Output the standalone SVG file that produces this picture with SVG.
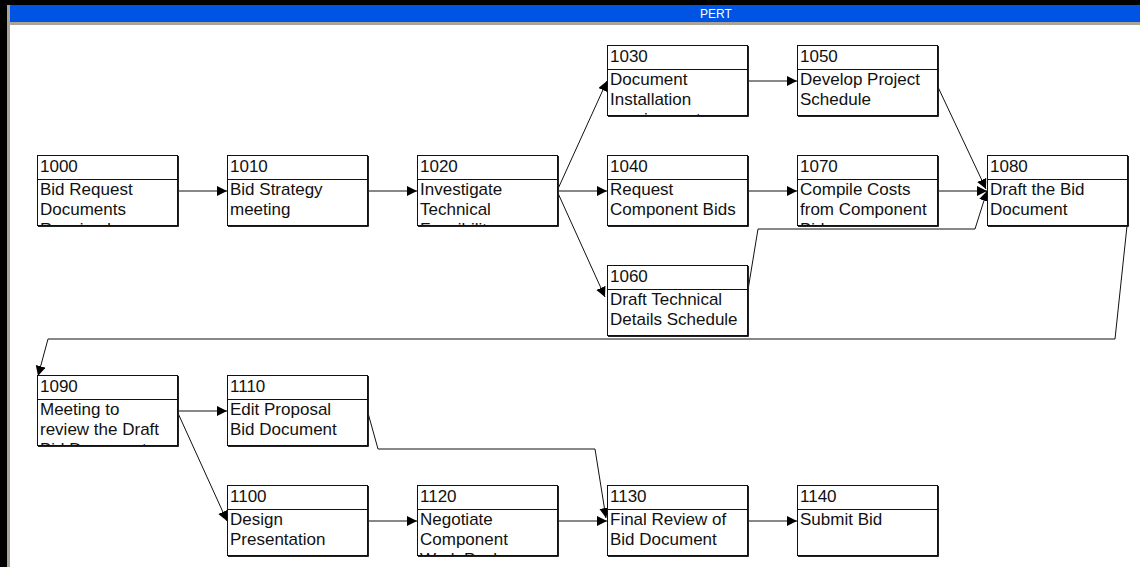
<svg xmlns="http://www.w3.org/2000/svg" width="1140" height="567" viewBox="0 0 1140 567">
<style>
.box{fill:#fff;stroke:#111;stroke-width:1}
.sh{stroke:#222;stroke-width:1;fill:none}
.div{stroke:#111;stroke-width:1}
.t{font-family:"Liberation Sans",Arial,sans-serif;font-size:17px;fill:#111}
.c{fill:none;stroke:#111;stroke-width:1;marker-end:url(#ah)}
.title{font-family:"Liberation Sans",Arial,sans-serif;font-size:12px;fill:#fff}
</style>
<defs>
<marker id="ah" markerUnits="userSpaceOnUse" markerWidth="11" markerHeight="11" refX="10" refY="5" orient="auto">
<path d="M0,0 L10,5 L0,10 Z" fill="#000"/>
</marker>
<clipPath id="r0"><rect x="0" y="69" width="1140" height="46"/></clipPath>
<clipPath id="r1"><rect x="0" y="179" width="1140" height="46"/></clipPath>
<clipPath id="r2"><rect x="0" y="289" width="1140" height="46"/></clipPath>
<clipPath id="r3"><rect x="0" y="399" width="1140" height="46"/></clipPath>
<clipPath id="r4"><rect x="0" y="509" width="1140" height="46"/></clipPath>
</defs>
<rect x="0" y="0" width="1140" height="567" fill="#fff"/>
<rect x="0" y="0" width="1140" height="5" fill="#000"/>
<rect x="9" y="5" width="1131" height="17" fill="#0054E3"/>
<rect x="9" y="22" width="1131" height="3" fill="#a8a498"/>
<rect x="0" y="0" width="7" height="567" fill="#000"/>
<rect x="7" y="5" width="3" height="562" fill="#a8a498"/>
<text class="title" x="716" y="18" text-anchor="middle">PERT</text>

<g id="connectors">
<path class="c" d="M177,191 H227"/>
<path class="c" d="M367,191 H417"/>
<path class="c" d="M557,191 L607,81"/>
<path class="c" d="M557,191 H607"/>
<path class="c" d="M557,191 L605,297"/>
<path class="c" d="M747,81 H797"/>
<path class="c" d="M747,191 H797"/>
<path class="c" d="M937,85 L986,189"/>
<path class="c" d="M937,191 H987"/>
<path class="c" d="M747,296 L758,229 H975 L987,191"/>
<path class="c" d="M1127,226 L1115,339 H48 L38,376"/>
<path class="c" d="M177,411 H227"/>
<path class="c" d="M177,411 L227,521"/>
<path class="c" d="M368,413 L378,449 H595 L606,518"/>
<path class="c" d="M367,521 H417"/>
<path class="c" d="M557,521 H607"/>
<path class="c" d="M747,521 H797"/>
</g>

<g id="n1000">
<rect class="box" x="37.5" y="155.5" width="140" height="70"/>
<path class="sh" d="M178.5,156 V226.5 H38"/>
<line class="div" x1="37.5" y1="179.5" x2="177.5" y2="179.5"/>
<text class="t" x="40" y="172">1000</text>
<g clip-path="url(#r1)"><text class="t" x="40" y="195">Bid Request</text><text class="t" x="40" y="215">Documents</text><text class="t" x="40" y="235">Received</text></g>
</g>
<g id="n1010">
<rect class="box" x="227.5" y="155.5" width="140" height="70"/>
<path class="sh" d="M368.5,156 V226.5 H228"/>
<line class="div" x1="227.5" y1="179.5" x2="367.5" y2="179.5"/>
<text class="t" x="230" y="172">1010</text>
<g clip-path="url(#r1)"><text class="t" x="230" y="195">Bid Strategy</text><text class="t" x="230" y="215">meeting</text></g>
</g>
<g id="n1020">
<rect class="box" x="417.5" y="155.5" width="140" height="70"/>
<path class="sh" d="M558.5,156 V226.5 H418"/>
<line class="div" x1="417.5" y1="179.5" x2="557.5" y2="179.5"/>
<text class="t" x="420" y="172">1020</text>
<g clip-path="url(#r1)"><text class="t" x="420" y="195">Investigate</text><text class="t" x="420" y="215">Technical</text><text class="t" x="420" y="235">Feasibility</text></g>
</g>
<g id="n1030">
<rect class="box" x="607.5" y="45.5" width="140" height="70"/>
<path class="sh" d="M748.5,46 V116.5 H608"/>
<line class="div" x1="607.5" y1="69.5" x2="747.5" y2="69.5"/>
<text class="t" x="610" y="62">1030</text>
<g clip-path="url(#r0)"><text class="t" x="610" y="85">Document</text><text class="t" x="610" y="105">Installation</text><text class="t" x="610" y="125">requirements</text></g>
</g>
<g id="n1040">
<rect class="box" x="607.5" y="155.5" width="140" height="70"/>
<path class="sh" d="M748.5,156 V226.5 H608"/>
<line class="div" x1="607.5" y1="179.5" x2="747.5" y2="179.5"/>
<text class="t" x="610" y="172">1040</text>
<g clip-path="url(#r1)"><text class="t" x="610" y="195">Request</text><text class="t" x="610" y="215">Component Bids</text></g>
</g>
<g id="n1050">
<rect class="box" x="797.5" y="45.5" width="140" height="70"/>
<path class="sh" d="M938.5,46 V116.5 H798"/>
<line class="div" x1="797.5" y1="69.5" x2="937.5" y2="69.5"/>
<text class="t" x="800" y="62">1050</text>
<g clip-path="url(#r0)"><text class="t" x="800" y="85">Develop Project</text><text class="t" x="800" y="105">Schedule</text></g>
</g>
<g id="n1060">
<rect class="box" x="607.5" y="265.5" width="140" height="70"/>
<path class="sh" d="M748.5,266 V336.5 H608"/>
<line class="div" x1="607.5" y1="289.5" x2="747.5" y2="289.5"/>
<text class="t" x="610" y="282">1060</text>
<g clip-path="url(#r2)"><text class="t" x="610" y="305">Draft Technical</text><text class="t" x="610" y="325">Details Schedule</text></g>
</g>
<g id="n1070">
<rect class="box" x="797.5" y="155.5" width="140" height="70"/>
<path class="sh" d="M938.5,156 V226.5 H798"/>
<line class="div" x1="797.5" y1="179.5" x2="937.5" y2="179.5"/>
<text class="t" x="800" y="172">1070</text>
<g clip-path="url(#r1)"><text class="t" x="800" y="195">Compile Costs</text><text class="t" x="800" y="215">from Component</text><text class="t" x="800" y="235">Bids</text></g>
</g>
<g id="n1080">
<rect class="box" x="987.5" y="155.5" width="140" height="70"/>
<path class="sh" d="M1128.5,156 V226.5 H988"/>
<line class="div" x1="987.5" y1="179.5" x2="1127.5" y2="179.5"/>
<text class="t" x="990" y="172">1080</text>
<g clip-path="url(#r1)"><text class="t" x="990" y="195">Draft the Bid</text><text class="t" x="990" y="215">Document</text></g>
</g>
<g id="n1090">
<rect class="box" x="37.5" y="375.5" width="140" height="70"/>
<path class="sh" d="M178.5,376 V446.5 H38"/>
<line class="div" x1="37.5" y1="399.5" x2="177.5" y2="399.5"/>
<text class="t" x="40" y="392">1090</text>
<g clip-path="url(#r3)"><text class="t" x="40" y="415">Meeting to</text><text class="t" x="40" y="435">review the Draft</text><text class="t" x="40" y="455">Bid Document</text></g>
</g>
<g id="n1110">
<rect class="box" x="227.5" y="375.5" width="140" height="70"/>
<path class="sh" d="M368.5,376 V446.5 H228"/>
<line class="div" x1="227.5" y1="399.5" x2="367.5" y2="399.5"/>
<text class="t" x="230" y="392">1110</text>
<g clip-path="url(#r3)"><text class="t" x="230" y="415">Edit Proposal</text><text class="t" x="230" y="435">Bid Document</text></g>
</g>
<g id="n1100">
<rect class="box" x="227.5" y="485.5" width="140" height="70"/>
<path class="sh" d="M368.5,486 V556.5 H228"/>
<line class="div" x1="227.5" y1="509.5" x2="367.5" y2="509.5"/>
<text class="t" x="230" y="502">1100</text>
<g clip-path="url(#r4)"><text class="t" x="230" y="525">Design</text><text class="t" x="230" y="545">Presentation</text></g>
</g>
<g id="n1120">
<rect class="box" x="417.5" y="485.5" width="140" height="70"/>
<path class="sh" d="M558.5,486 V556.5 H418"/>
<line class="div" x1="417.5" y1="509.5" x2="557.5" y2="509.5"/>
<text class="t" x="420" y="502">1120</text>
<g clip-path="url(#r4)"><text class="t" x="420" y="525">Negotiate</text><text class="t" x="420" y="545">Component</text><text class="t" x="420" y="565">Work Packages</text></g>
</g>
<g id="n1130">
<rect class="box" x="607.5" y="485.5" width="140" height="70"/>
<path class="sh" d="M748.5,486 V556.5 H608"/>
<line class="div" x1="607.5" y1="509.5" x2="747.5" y2="509.5"/>
<text class="t" x="610" y="502">1130</text>
<g clip-path="url(#r4)"><text class="t" x="610" y="525">Final Review of</text><text class="t" x="610" y="545">Bid Document</text></g>
</g>
<g id="n1140">
<rect class="box" x="797.5" y="485.5" width="140" height="70"/>
<path class="sh" d="M938.5,486 V556.5 H798"/>
<line class="div" x1="797.5" y1="509.5" x2="937.5" y2="509.5"/>
<text class="t" x="800" y="502">1140</text>
<g clip-path="url(#r4)"><text class="t" x="800" y="525">Submit Bid</text></g>
</g>
</svg>
